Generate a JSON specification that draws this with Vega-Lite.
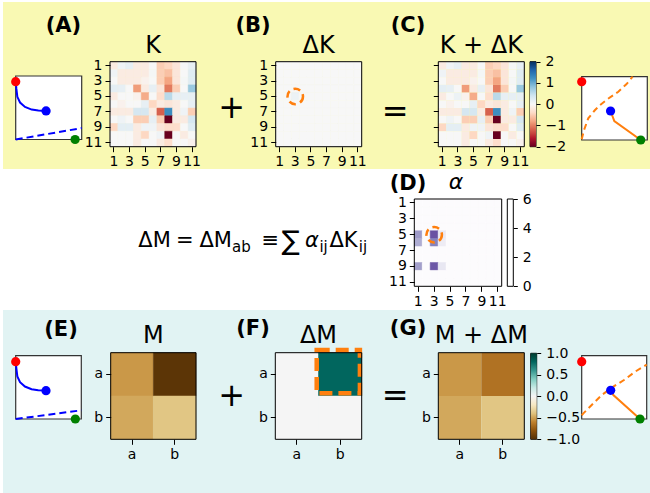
{
  "$schema": "https://vega.github.io/schema/vega-lite/v6.json",
  "padding": {"left": 3, "top": 2, "right": 0, "bottom": 0},
  "background": "white",
  "spacing": 0,
  "config": {
    "font": "DejaVu Sans",
    "view": {"stroke": null},
    "axis": {"labelFont": "DejaVu Sans", "labelFontSize": 14, "labelColor": "black", "tickColor": "black", "tickSize": 5, "tickWidth": 1, "domain": false, "grid": false, "labelPadding": 3, "labelAngle": 0, "labelOverlap": false, "labelFlush": false, "minExtent": 0},
    "legend": {"padding": 0}
  },
  "datasets": {
    "K": [
      {"r":1,"c":1,"v":-0.17},{"r":1,"c":2,"v":0.08},{"r":1,"c":3,"v":0.17},{"r":1,"c":4,"v":-0.17},{"r":1,"c":5,"v":-0.17},{"r":1,"c":6,"v":0},{"r":1,"c":7,"v":-0.5},{"r":1,"c":8,"v":-0.42},{"r":1,"c":9,"v":-0.25},{"r":1,"c":10,"v":0.03},{"r":1,"c":11,"v":0.17},
      {"r":2,"c":1,"v":0.08},{"r":2,"c":2,"v":-0.17},{"r":2,"c":3,"v":-0.17},{"r":2,"c":4,"v":-0.17},{"r":2,"c":5,"v":-0.17},{"r":2,"c":6,"v":0.03},{"r":2,"c":7,"v":-0.5},{"r":2,"c":8,"v":-0.6},{"r":2,"c":9,"v":-0.25},{"r":2,"c":10,"v":0},{"r":2,"c":11,"v":0.25},
      {"r":3,"c":1,"v":0},{"r":3,"c":2,"v":-0.17},{"r":3,"c":3,"v":-0.17},{"r":3,"c":4,"v":-0.17},{"r":3,"c":5,"v":-0.08},{"r":3,"c":6,"v":0},{"r":3,"c":7,"v":-0.5},{"r":3,"c":8,"v":-0.8},{"r":3,"c":9,"v":-0.25},{"r":3,"c":10,"v":0.03},{"r":3,"c":11,"v":0.25},
      {"r":4,"c":1,"v":0.2},{"r":4,"c":2,"v":0.17},{"r":4,"c":3,"v":0},{"r":4,"c":4,"v":-0.85},{"r":4,"c":5,"v":-0.17},{"r":4,"c":6,"v":0.17},{"r":4,"c":7,"v":-0.25},{"r":4,"c":8,"v":-1.05},{"r":4,"c":9,"v":-0.5},{"r":4,"c":10,"v":0},{"r":4,"c":11,"v":0.75},
      {"r":5,"c":1,"v":-0.17},{"r":5,"c":2,"v":0},{"r":5,"c":3,"v":0},{"r":5,"c":4,"v":-0.08},{"r":5,"c":5,"v":-0.75},{"r":5,"c":6,"v":0},{"r":5,"c":7,"v":-0.35},{"r":5,"c":8,"v":0.55},{"r":5,"c":9,"v":0.17},{"r":5,"c":10,"v":0.17},{"r":5,"c":11,"v":0.17},
      {"r":6,"c":1,"v":0},{"r":6,"c":2,"v":-0.08},{"r":6,"c":3,"v":0},{"r":6,"c":4,"v":0},{"r":6,"c":5,"v":0.17},{"r":6,"c":6,"v":-0.42},{"r":6,"c":7,"v":-0.17},{"r":6,"c":8,"v":-0.25},{"r":6,"c":9,"v":-0.17},{"r":6,"c":10,"v":0},{"r":6,"c":11,"v":0.17},
      {"r":7,"c":1,"v":-0.17},{"r":7,"c":2,"v":-0.17},{"r":7,"c":3,"v":-0.17},{"r":7,"c":4,"v":0.35},{"r":7,"c":5,"v":0.35},{"r":7,"c":6,"v":-0.17},{"r":7,"c":7,"v":-1.2},{"r":7,"c":8,"v":1.25},{"r":7,"c":9,"v":-0.17},{"r":7,"c":10,"v":0.08},{"r":7,"c":11,"v":-0.5},
      {"r":8,"c":1,"v":0},{"r":8,"c":2,"v":0.08},{"r":8,"c":3,"v":0},{"r":8,"c":4,"v":-0.5},{"r":8,"c":5,"v":-0.5},{"r":8,"c":6,"v":0.17},{"r":8,"c":7,"v":-0.5},{"r":8,"c":8,"v":-2},{"r":8,"c":9,"v":-0.17},{"r":8,"c":10,"v":-0.17},{"r":8,"c":11,"v":0.35},
      {"r":9,"c":1,"v":-0.42},{"r":9,"c":2,"v":0.2},{"r":9,"c":3,"v":0.2},{"r":9,"c":4,"v":-0.17},{"r":9,"c":5,"v":0.08},{"r":9,"c":6,"v":0.08},{"r":9,"c":7,"v":-0.25},{"r":9,"c":8,"v":-0.35},{"r":9,"c":9,"v":-0.35},{"r":9,"c":10,"v":0},{"r":9,"c":11,"v":0.25},
      {"r":10,"c":1,"v":0},{"r":10,"c":2,"v":0},{"r":10,"c":3,"v":0},{"r":10,"c":4,"v":-0.17},{"r":10,"c":5,"v":-0.42},{"r":10,"c":6,"v":0},{"r":10,"c":7,"v":0.08},{"r":10,"c":8,"v":-2},{"r":10,"c":9,"v":0},{"r":10,"c":10,"v":-0.17},{"r":10,"c":11,"v":0},
      {"r":11,"c":1,"v":0},{"r":11,"c":2,"v":0},{"r":11,"c":3,"v":0},{"r":11,"c":4,"v":-0.17},{"r":11,"c":5,"v":0},{"r":11,"c":6,"v":0},{"r":11,"c":7,"v":-0.17},{"r":11,"c":8,"v":-0.35},{"r":11,"c":9,"v":0},{"r":11,"c":10,"v":0},{"r":11,"c":11,"v":-0.08}
    ],
    "KdK": [
      {"r":1,"c":1,"v":-0.17},{"r":1,"c":2,"v":0.08},{"r":1,"c":3,"v":0.17},{"r":1,"c":4,"v":-0.17},{"r":1,"c":5,"v":-0.17},{"r":1,"c":6,"v":0},{"r":1,"c":7,"v":-0.5},{"r":1,"c":8,"v":-0.42},{"r":1,"c":9,"v":-0.25},{"r":1,"c":10,"v":0.03},{"r":1,"c":11,"v":0.17},
      {"r":2,"c":1,"v":0.08},{"r":2,"c":2,"v":-0.17},{"r":2,"c":3,"v":-0.17},{"r":2,"c":4,"v":-0.17},{"r":2,"c":5,"v":-0.17},{"r":2,"c":6,"v":0.03},{"r":2,"c":7,"v":-0.5},{"r":2,"c":8,"v":-0.6},{"r":2,"c":9,"v":-0.25},{"r":2,"c":10,"v":0},{"r":2,"c":11,"v":0.25},
      {"r":3,"c":1,"v":0},{"r":3,"c":2,"v":-0.17},{"r":3,"c":3,"v":-0.17},{"r":3,"c":4,"v":-0.17},{"r":3,"c":5,"v":-0.08},{"r":3,"c":6,"v":0},{"r":3,"c":7,"v":-0.5},{"r":3,"c":8,"v":-0.8},{"r":3,"c":9,"v":-0.25},{"r":3,"c":10,"v":0.03},{"r":3,"c":11,"v":0.25},
      {"r":4,"c":1,"v":0.2},{"r":4,"c":2,"v":0.17},{"r":4,"c":3,"v":0},{"r":4,"c":4,"v":-0.85},{"r":4,"c":5,"v":-0.17},{"r":4,"c":6,"v":0.17},{"r":4,"c":7,"v":-0.25},{"r":4,"c":8,"v":-1.05},{"r":4,"c":9,"v":-0.5},{"r":4,"c":10,"v":0},{"r":4,"c":11,"v":0.75},
      {"r":5,"c":1,"v":-0.17},{"r":5,"c":2,"v":0},{"r":5,"c":3,"v":0.12},{"r":5,"c":4,"v":-0.08},{"r":5,"c":5,"v":-0.75},{"r":5,"c":6,"v":0},{"r":5,"c":7,"v":-0.35},{"r":5,"c":8,"v":0.55},{"r":5,"c":9,"v":0.17},{"r":5,"c":10,"v":0.17},{"r":5,"c":11,"v":0.17},
      {"r":6,"c":1,"v":0},{"r":6,"c":2,"v":-0.08},{"r":6,"c":3,"v":0},{"r":6,"c":4,"v":0},{"r":6,"c":5,"v":0.17},{"r":6,"c":6,"v":-0.42},{"r":6,"c":7,"v":-0.17},{"r":6,"c":8,"v":-0.25},{"r":6,"c":9,"v":-0.17},{"r":6,"c":10,"v":0},{"r":6,"c":11,"v":0.17},
      {"r":7,"c":1,"v":-0.17},{"r":7,"c":2,"v":-0.17},{"r":7,"c":3,"v":-0.17},{"r":7,"c":4,"v":0.35},{"r":7,"c":5,"v":0.35},{"r":7,"c":6,"v":-0.17},{"r":7,"c":7,"v":-1.2},{"r":7,"c":8,"v":1.25},{"r":7,"c":9,"v":-0.17},{"r":7,"c":10,"v":0.08},{"r":7,"c":11,"v":-0.5},
      {"r":8,"c":1,"v":0},{"r":8,"c":2,"v":0.08},{"r":8,"c":3,"v":0},{"r":8,"c":4,"v":-0.5},{"r":8,"c":5,"v":-0.5},{"r":8,"c":6,"v":0.17},{"r":8,"c":7,"v":-0.5},{"r":8,"c":8,"v":-2},{"r":8,"c":9,"v":-0.17},{"r":8,"c":10,"v":-0.17},{"r":8,"c":11,"v":0.35},
      {"r":9,"c":1,"v":-0.42},{"r":9,"c":2,"v":0.2},{"r":9,"c":3,"v":0.2},{"r":9,"c":4,"v":-0.17},{"r":9,"c":5,"v":0.08},{"r":9,"c":6,"v":0.08},{"r":9,"c":7,"v":-0.25},{"r":9,"c":8,"v":-0.35},{"r":9,"c":9,"v":-0.35},{"r":9,"c":10,"v":0},{"r":9,"c":11,"v":0.25},
      {"r":10,"c":1,"v":0},{"r":10,"c":2,"v":0},{"r":10,"c":3,"v":0},{"r":10,"c":4,"v":-0.17},{"r":10,"c":5,"v":-0.42},{"r":10,"c":6,"v":0},{"r":10,"c":7,"v":0.08},{"r":10,"c":8,"v":-2},{"r":10,"c":9,"v":0},{"r":10,"c":10,"v":-0.17},{"r":10,"c":11,"v":0},
      {"r":11,"c":1,"v":0},{"r":11,"c":2,"v":0},{"r":11,"c":3,"v":0},{"r":11,"c":4,"v":-0.17},{"r":11,"c":5,"v":0},{"r":11,"c":6,"v":0},{"r":11,"c":7,"v":-0.17},{"r":11,"c":8,"v":-0.35},{"r":11,"c":9,"v":0},{"r":11,"c":10,"v":0},{"r":11,"c":11,"v":-0.08}
    ],
    "dK": [
      {"r":1,"c":1,"v":0},{"r":1,"c":2,"v":0},{"r":1,"c":3,"v":0},{"r":1,"c":4,"v":0},{"r":1,"c":5,"v":0},{"r":1,"c":6,"v":0},{"r":1,"c":7,"v":0},{"r":1,"c":8,"v":0},{"r":1,"c":9,"v":0},{"r":1,"c":10,"v":0},{"r":1,"c":11,"v":0},
      {"r":2,"c":1,"v":0},{"r":2,"c":2,"v":0},{"r":2,"c":3,"v":0},{"r":2,"c":4,"v":0},{"r":2,"c":5,"v":0},{"r":2,"c":6,"v":0},{"r":2,"c":7,"v":0},{"r":2,"c":8,"v":0},{"r":2,"c":9,"v":0},{"r":2,"c":10,"v":0},{"r":2,"c":11,"v":0},
      {"r":3,"c":1,"v":0},{"r":3,"c":2,"v":0},{"r":3,"c":3,"v":0},{"r":3,"c":4,"v":0},{"r":3,"c":5,"v":0},{"r":3,"c":6,"v":0},{"r":3,"c":7,"v":0},{"r":3,"c":8,"v":0},{"r":3,"c":9,"v":0},{"r":3,"c":10,"v":0},{"r":3,"c":11,"v":0},
      {"r":4,"c":1,"v":0},{"r":4,"c":2,"v":0},{"r":4,"c":3,"v":0},{"r":4,"c":4,"v":0},{"r":4,"c":5,"v":0},{"r":4,"c":6,"v":0},{"r":4,"c":7,"v":0},{"r":4,"c":8,"v":0},{"r":4,"c":9,"v":0},{"r":4,"c":10,"v":0},{"r":4,"c":11,"v":0},
      {"r":5,"c":1,"v":0},{"r":5,"c":2,"v":0},{"r":5,"c":3,"v":0.12},{"r":5,"c":4,"v":0},{"r":5,"c":5,"v":0},{"r":5,"c":6,"v":0},{"r":5,"c":7,"v":0},{"r":5,"c":8,"v":0},{"r":5,"c":9,"v":0},{"r":5,"c":10,"v":0},{"r":5,"c":11,"v":0},
      {"r":6,"c":1,"v":0},{"r":6,"c":2,"v":0},{"r":6,"c":3,"v":0},{"r":6,"c":4,"v":0},{"r":6,"c":5,"v":0},{"r":6,"c":6,"v":0},{"r":6,"c":7,"v":0},{"r":6,"c":8,"v":0},{"r":6,"c":9,"v":0},{"r":6,"c":10,"v":0},{"r":6,"c":11,"v":0},
      {"r":7,"c":1,"v":0},{"r":7,"c":2,"v":0},{"r":7,"c":3,"v":0},{"r":7,"c":4,"v":0},{"r":7,"c":5,"v":0},{"r":7,"c":6,"v":0},{"r":7,"c":7,"v":0},{"r":7,"c":8,"v":0},{"r":7,"c":9,"v":0},{"r":7,"c":10,"v":0},{"r":7,"c":11,"v":0},
      {"r":8,"c":1,"v":0},{"r":8,"c":2,"v":0},{"r":8,"c":3,"v":0},{"r":8,"c":4,"v":0},{"r":8,"c":5,"v":0},{"r":8,"c":6,"v":0},{"r":8,"c":7,"v":0},{"r":8,"c":8,"v":0},{"r":8,"c":9,"v":0},{"r":8,"c":10,"v":0},{"r":8,"c":11,"v":0},
      {"r":9,"c":1,"v":0},{"r":9,"c":2,"v":0},{"r":9,"c":3,"v":0},{"r":9,"c":4,"v":0},{"r":9,"c":5,"v":0},{"r":9,"c":6,"v":0},{"r":9,"c":7,"v":0},{"r":9,"c":8,"v":0},{"r":9,"c":9,"v":0},{"r":9,"c":10,"v":0},{"r":9,"c":11,"v":0},
      {"r":10,"c":1,"v":0},{"r":10,"c":2,"v":0},{"r":10,"c":3,"v":0},{"r":10,"c":4,"v":0},{"r":10,"c":5,"v":0},{"r":10,"c":6,"v":0},{"r":10,"c":7,"v":0},{"r":10,"c":8,"v":0},{"r":10,"c":9,"v":0},{"r":10,"c":10,"v":0},{"r":10,"c":11,"v":0},
      {"r":11,"c":1,"v":0},{"r":11,"c":2,"v":0},{"r":11,"c":3,"v":0},{"r":11,"c":4,"v":0},{"r":11,"c":5,"v":0},{"r":11,"c":6,"v":0},{"r":11,"c":7,"v":0},{"r":11,"c":8,"v":0},{"r":11,"c":9,"v":0},{"r":11,"c":10,"v":0},{"r":11,"c":11,"v":0}
    ],
    "alpha": [
      {"r":1,"c":1,"v":0},{"r":1,"c":2,"v":0},{"r":1,"c":3,"v":0},{"r":1,"c":4,"v":0},{"r":1,"c":5,"v":0},{"r":1,"c":6,"v":0},{"r":1,"c":7,"v":0},{"r":1,"c":8,"v":0},{"r":1,"c":9,"v":0},{"r":1,"c":10,"v":0},{"r":1,"c":11,"v":0},
      {"r":2,"c":1,"v":0},{"r":2,"c":2,"v":0},{"r":2,"c":3,"v":0},{"r":2,"c":4,"v":0},{"r":2,"c":5,"v":0},{"r":2,"c":6,"v":0},{"r":2,"c":7,"v":0},{"r":2,"c":8,"v":0},{"r":2,"c":9,"v":0},{"r":2,"c":10,"v":0},{"r":2,"c":11,"v":0},
      {"r":3,"c":1,"v":0},{"r":3,"c":2,"v":0},{"r":3,"c":3,"v":0},{"r":3,"c":4,"v":0},{"r":3,"c":5,"v":0},{"r":3,"c":6,"v":0},{"r":3,"c":7,"v":0},{"r":3,"c":8,"v":0},{"r":3,"c":9,"v":0},{"r":3,"c":10,"v":0},{"r":3,"c":11,"v":0},
      {"r":4,"c":1,"v":0},{"r":4,"c":2,"v":0},{"r":4,"c":3,"v":0},{"r":4,"c":4,"v":0},{"r":4,"c":5,"v":0},{"r":4,"c":6,"v":0},{"r":4,"c":7,"v":0},{"r":4,"c":8,"v":0},{"r":4,"c":9,"v":0},{"r":4,"c":10,"v":0},{"r":4,"c":11,"v":0},
      {"r":5,"c":1,"v":3.0},{"r":5,"c":2,"v":0},{"r":5,"c":3,"v":4.5},{"r":5,"c":4,"v":0.9},{"r":5,"c":5,"v":0},{"r":5,"c":6,"v":0},{"r":5,"c":7,"v":0},{"r":5,"c":8,"v":0},{"r":5,"c":9,"v":0},{"r":5,"c":10,"v":0},{"r":5,"c":11,"v":0},
      {"r":6,"c":1,"v":2.6},{"r":6,"c":2,"v":0},{"r":6,"c":3,"v":3.6},{"r":6,"c":4,"v":0.8},{"r":6,"c":5,"v":0},{"r":6,"c":6,"v":0},{"r":6,"c":7,"v":0},{"r":6,"c":8,"v":0},{"r":6,"c":9,"v":0},{"r":6,"c":10,"v":0},{"r":6,"c":11,"v":0},
      {"r":7,"c":1,"v":0},{"r":7,"c":2,"v":0},{"r":7,"c":3,"v":0},{"r":7,"c":4,"v":0},{"r":7,"c":5,"v":0},{"r":7,"c":6,"v":0},{"r":7,"c":7,"v":0},{"r":7,"c":8,"v":0},{"r":7,"c":9,"v":0},{"r":7,"c":10,"v":0},{"r":7,"c":11,"v":0},
      {"r":8,"c":1,"v":0},{"r":8,"c":2,"v":0},{"r":8,"c":3,"v":0},{"r":8,"c":4,"v":0},{"r":8,"c":5,"v":0},{"r":8,"c":6,"v":0},{"r":8,"c":7,"v":0},{"r":8,"c":8,"v":0},{"r":8,"c":9,"v":0},{"r":8,"c":10,"v":0},{"r":8,"c":11,"v":0},
      {"r":9,"c":1,"v":2.9},{"r":9,"c":2,"v":0},{"r":9,"c":3,"v":4.4},{"r":9,"c":4,"v":1.0},{"r":9,"c":5,"v":0},{"r":9,"c":6,"v":0},{"r":9,"c":7,"v":0},{"r":9,"c":8,"v":0},{"r":9,"c":9,"v":0},{"r":9,"c":10,"v":0},{"r":9,"c":11,"v":0},
      {"r":10,"c":1,"v":0},{"r":10,"c":2,"v":0},{"r":10,"c":3,"v":0},{"r":10,"c":4,"v":0},{"r":10,"c":5,"v":0},{"r":10,"c":6,"v":0},{"r":10,"c":7,"v":0},{"r":10,"c":8,"v":0},{"r":10,"c":9,"v":0},{"r":10,"c":10,"v":0},{"r":10,"c":11,"v":0},
      {"r":11,"c":1,"v":0},{"r":11,"c":2,"v":0},{"r":11,"c":3,"v":0},{"r":11,"c":4,"v":0},{"r":11,"c":5,"v":0},{"r":11,"c":6,"v":0},{"r":11,"c":7,"v":0},{"r":11,"c":8,"v":0},{"r":11,"c":9,"v":0},{"r":11,"c":10,"v":0},{"r":11,"c":11,"v":0}
    ],
    "M": [{"r":"a","c":"a","v":-0.53},{"r":"a","c":"b","v":-0.97},{"r":"b","c":"a","v":-0.48},{"r":"b","c":"b","v":-0.38}],
    "dM": [{"r":"a","c":"a","v":0},{"r":"a","c":"b","v":0.8},{"r":"b","c":"a","v":0},{"r":"b","c":"b","v":0}],
    "MdM": [{"r":"a","c":"a","v":-0.53},{"r":"a","c":"b","v":-0.66},{"r":"b","c":"a","v":-0.48},{"r":"b","c":"b","v":-0.38}],
    "A_curve": [{"x":0.0,"y":0.91},{"x":0.01,"y":0.8},{"x":0.025,"y":0.672},{"x":0.066,"y":0.582},{"x":0.141,"y":0.513},{"x":0.242,"y":0.471},{"x":0.343,"y":0.455},{"x":0.46,"y":0.45}],
    "A_dash": [{"x":0,"y":0},{"x":1,"y":0.18}],
    "A_pts": [{"x":0,"y":0.91,"role":"start"},{"x":0.46,"y":0.45,"role":"mid"},{"x":0.9,"y":0,"role":"end"}],
    "C_dash": [{"x":0,"y":0.01},{"x":0.036,"y":0.158},{"x":0.1,"y":0.342},{"x":0.2,"y":0.47},{"x":0.28,"y":0.553},{"x":0.4,"y":0.65},{"x":0.558,"y":0.763},{"x":0.68,"y":0.88},{"x":0.777,"y":1.0}],
    "C_line": [{"x":0.44,"y":0.458},{"x":0.497,"y":0.3},{"x":0.9,"y":0}],
    "C_pts": [{"x":0,"y":0.92,"role":"start"},{"x":0.44,"y":0.458,"role":"mid"},{"x":0.9,"y":0,"role":"end"}],
    "E_dash": [{"x":0,"y":0},{"x":1,"y":0.137}],
    "E_pts": [{"x":0,"y":0.905,"role":"start"},{"x":0.462,"y":0.447,"role":"mid"},{"x":0.909,"y":0,"role":"end"}],
    "G_dash": [{"x":0,"y":0.06},{"x":0.026,"y":0.089},{"x":0.154,"y":0.221},{"x":0.308,"y":0.379},{"x":0.487,"y":0.511},{"x":0.651,"y":0.616},{"x":0.821,"y":0.747},{"x":1.0,"y":0.86}],
    "G_line": [{"x":0.446,"y":0.453},{"x":0.487,"y":0.379},{"x":0.897,"y":0}],
    "G_pts": [{"x":0,"y":0.905,"role":"start"},{"x":0.446,"y":0.453,"role":"mid"},{"x":0.897,"y":0,"role":"end"}]
  },
  "vconcat": [
    {
      "width": 647, "height": 167,
      "view": {"fill": "#f9f9b3", "stroke": null},
      "resolve": {"scale": {"x": "independent", "y": "independent", "color": "independent", "stroke": "independent"}, "axis": {"x": "independent", "y": "independent"}, "legend": {"color": "independent", "stroke": "independent"}},
      "layer": [
        {"layer": [
          {"data": {"values": [{}]}, "mark": {"type": "rect", "fill": "white", "stroke": "#333333", "strokeWidth": 1.2},
           "encoding": {"x": {"datum": 0, "type": "quantitative", "scale": {"domain": [0, 1], "range": [12.7, 78.7], "nice": false, "zero": false}, "axis": null}, "x2": {"datum": 1}, "y": {"datum": 0, "type": "quantitative", "scale": {"domain": [0, 1], "range": [137.5, 74], "nice": false, "zero": false}, "axis": null}, "y2": {"datum": 1}}},
          {"data": {"name": "A_curve"}, "mark": {"type": "line", "color": "#0000ff", "strokeWidth": 2}, "encoding": {"x": {"field": "x", "type": "quantitative"}, "y": {"field": "y", "type": "quantitative"}}},
          {"data": {"name": "A_dash"}, "mark": {"type": "line", "color": "#0000ff", "strokeWidth": 2, "strokeDash": [7, 4]}, "encoding": {"x": {"field": "x", "type": "quantitative"}, "y": {"field": "y", "type": "quantitative"}}},
          {"data": {"name": "A_pts"}, "mark": {"type": "point", "filled": true, "size": 85, "opacity": 1}, "encoding": {"x": {"field": "x", "type": "quantitative"}, "y": {"field": "y", "type": "quantitative"}, "color": {"field": "role", "type": "nominal", "scale": {"domain": ["start", "mid", "end"], "range": ["#ff0000", "#0000ff", "#008000"]}, "legend": null}}},
          {"data": {"values": [{"t": "(A)"}]}, "mark": {"type": "text", "fontSize": 21, "fontWeight": "bold", "align": "center", "baseline": "alphabetic", "color": "black"}, "encoding": {"text": {"field": "t"}, "x": {"datum": 0.724, "type": "quantitative"}, "y": {"datum": 1.693, "type": "quantitative"}}}
        ]},
        {"data": {"name": "K"}, "mark": {"type": "rect", "strokeWidth": 0.5, "opacity": 1},
         "encoding": {
           "x": {"field": "c", "type": "ordinal", "scale": {"domain": [1,2,3,4,5,6,7,8,9,10,11], "range": [107, 193], "paddingInner": 0, "paddingOuter": 0}, "axis": {"orient": "bottom", "offset": -22.3, "values": [1,3,5,7,9,11], "title": null}},
           "y": {"field": "r", "type": "ordinal", "scale": {"domain": [1,2,3,4,5,6,7,8,9,10,11], "range": [59.7, 144.7], "paddingInner": 0, "paddingOuter": 0}, "axis": {"orient": "left", "offset": -107, "values": [1,3,5,7,9,11], "title": null}},
           "color": {"field": "v", "type": "quantitative", "scale": {"domain": [-2,-1.6,-1.2,-0.8,-0.4,0,0.4,0.8,1.2,1.6,2], "range": ["#67001f","#b2182b","#d6604d","#f4a582","#fddbc7","#f7f7f7","#d1e5f0","#92c5de","#4393c3","#2166ac","#053061"]}, "legend": null},
           "stroke": {"field": "v", "type": "quantitative", "scale": {"domain": [-2,-1.6,-1.2,-0.8,-0.4,0,0.4,0.8,1.2,1.6,2], "range": ["#67001f","#b2182b","#d6604d","#f4a582","#fddbc7","#f7f7f7","#d1e5f0","#92c5de","#4393c3","#2166ac","#053061"]}, "legend": null}}},
        {"layer": [
          {"data": {"values": [{}]}, "mark": {"type": "rect", "fill": "transparent", "stroke": "black", "strokeWidth": 1},
           "encoding": {"x": {"datum": 0, "type": "quantitative", "scale": {"domain": [0, 1], "range": [107, 193], "nice": false, "zero": false}, "axis": null}, "x2": {"datum": 1}, "y": {"datum": 0, "type": "quantitative", "scale": {"domain": [0, 1], "range": [144.7, 59.7], "nice": false, "zero": false}, "axis": null}, "y2": {"datum": 1}}},
          {"data": {"values": [{"t": "K"}]}, "mark": {"type": "text", "fontSize": 24, "align": "center", "baseline": "alphabetic", "color": "black"}, "encoding": {"text": {"field": "t"}, "x": {"datum": 0.5, "type": "quantitative"}, "y": {"datum": 1.1024, "type": "quantitative"}}}
        ]},
        {"layer": [
          {"data": {"name": "dK"}, "mark": {"type": "rect", "strokeWidth": 0.5, "opacity": 1},
           "encoding": {
             "x": {"field": "c", "type": "ordinal", "scale": {"domain": [1,2,3,4,5,6,7,8,9,10,11], "range": [272.7, 358.7], "paddingInner": 0, "paddingOuter": 0}, "axis": {"orient": "bottom", "offset": -22.3, "values": [1,3,5,7,9,11], "title": null}},
             "y": {"field": "r", "type": "ordinal", "scale": {"domain": [1,2,3,4,5,6,7,8,9,10,11], "range": [59.7, 144.7], "paddingInner": 0, "paddingOuter": 0}, "axis": {"orient": "left", "offset": -272.7, "values": [1,3,5,7,9,11], "title": null}},
             "color": {"field": "v", "type": "quantitative", "scale": {"domain": [-2,-1.6,-1.2,-0.8,-0.4,0,0.4,0.8,1.2,1.6,2], "range": ["#67001f","#b2182b","#d6604d","#f4a582","#fddbc7","#f7f7f7","#d1e5f0","#92c5de","#4393c3","#2166ac","#053061"]}, "legend": null},
             "stroke": {"field": "v", "type": "quantitative", "scale": {"domain": [-2,-1.6,-1.2,-0.8,-0.4,0,0.4,0.8,1.2,1.6,2], "range": ["#67001f","#b2182b","#d6604d","#f4a582","#fddbc7","#f7f7f7","#d1e5f0","#92c5de","#4393c3","#2166ac","#053061"]}, "legend": null}}},
          {"data": {"values": [{"r": 5, "c": 3}]}, "mark": {"type": "point", "shape": "circle", "size": 240, "filled": false, "stroke": "#ff7f0e", "strokeWidth": 2.5, "strokeDash": [7, 4.5], "opacity": 1},
           "encoding": {"x": {"field": "c", "type": "ordinal"}, "y": {"field": "r", "type": "ordinal"}}}
        ]},
        {"layer": [
          {"data": {"values": [{}]}, "mark": {"type": "rect", "fill": "transparent", "stroke": "black", "strokeWidth": 1},
           "encoding": {"x": {"datum": 0, "type": "quantitative", "scale": {"domain": [0, 1], "range": [272.7, 358.7], "nice": false, "zero": false}, "axis": null}, "x2": {"datum": 1}, "y": {"datum": 0, "type": "quantitative", "scale": {"domain": [0, 1], "range": [144.7, 59.7], "nice": false, "zero": false}, "axis": null}, "y2": {"datum": 1}}},
          {"data": {"values": [{"t": "ΔK"}]}, "mark": {"type": "text", "fontSize": 24, "align": "center", "baseline": "alphabetic", "color": "black"}, "encoding": {"text": {"field": "t"}, "x": {"datum": 0.5, "type": "quantitative"}, "y": {"datum": 1.1024, "type": "quantitative"}}},
          {"data": {"values": [{"t": "(B)"}]}, "mark": {"type": "text", "fontSize": 21, "fontWeight": "bold", "align": "center", "baseline": "alphabetic", "color": "black"}, "encoding": {"text": {"field": "t"}, "x": {"datum": -0.264, "type": "quantitative"}, "y": {"datum": 1.349, "type": "quantitative"}}},
          {"data": {"values": [{"t": "+"}]}, "mark": {"type": "text", "fontSize": 32, "align": "center", "baseline": "alphabetic", "color": "black"}, "encoding": {"text": {"field": "t"}, "x": {"datum": -0.512, "type": "quantitative"}, "y": {"datum": 0.332, "type": "quantitative"}}}
        ]},
        {"data": {"name": "KdK"}, "mark": {"type": "rect", "strokeWidth": 0.5, "opacity": 1},
         "encoding": {
           "x": {"field": "c", "type": "ordinal", "scale": {"domain": [1,2,3,4,5,6,7,8,9,10,11], "range": [435.3, 521.3], "paddingInner": 0, "paddingOuter": 0}, "axis": {"orient": "bottom", "offset": -22.3, "values": [1,3,5,7,9,11], "title": null}},
           "y": {"field": "r", "type": "ordinal", "scale": {"domain": [1,2,3,4,5,6,7,8,9,10,11], "range": [59.7, 144.7], "paddingInner": 0, "paddingOuter": 0}, "axis": {"orient": "left", "offset": -435.3, "values": [1,3,5,7,9,11], "labels": false, "title": null}},
           "color": {"field": "v", "type": "quantitative", "scale": {"domain": [-2,-1.6,-1.2,-0.8,-0.4,0,0.4,0.8,1.2,1.6,2], "range": ["#67001f","#b2182b","#d6604d","#f4a582","#fddbc7","#f7f7f7","#d1e5f0","#92c5de","#4393c3","#2166ac","#053061"]}, "legend": {"type": "gradient", "orient": "none", "legendX": 527, "legendY": 59.7, "direction": "vertical", "gradientLength": 85, "gradientThickness": 6, "title": null, "labelExpr": "''", "labelOpacity": 0, "gradientStrokeWidth": 0}}}},
        {"layer": [
          {"data": {"values": [{}]}, "mark": {"type": "rect", "fill": "transparent", "stroke": "black", "strokeWidth": 1},
           "encoding": {"x": {"datum": 0, "type": "quantitative", "scale": {"domain": [0, 1], "range": [435.3, 521.3], "nice": false, "zero": false}, "axis": null}, "x2": {"datum": 1}, "y": {"datum": 0, "type": "quantitative", "scale": {"domain": [0, 1], "range": [144.7, 59.7], "nice": false, "zero": false}, "axis": null}, "y2": {"datum": 1}}},
          {"data": {"values": [{"t": "K + ΔK"}]}, "mark": {"type": "text", "fontSize": 24, "align": "center", "baseline": "alphabetic", "color": "black"}, "encoding": {"text": {"field": "t"}, "x": {"datum": 0.5, "type": "quantitative"}, "y": {"datum": 1.1024, "type": "quantitative"}}},
          {"data": {"values": [{"t": "(C)"}]}, "mark": {"type": "text", "fontSize": 21, "fontWeight": "bold", "align": "center", "baseline": "alphabetic", "color": "black"}, "encoding": {"text": {"field": "t"}, "x": {"datum": -0.352, "type": "quantitative"}, "y": {"datum": 1.349, "type": "quantitative"}}},
          {"data": {"values": [{"t": "="}]}, "mark": {"type": "text", "fontSize": 32, "align": "center", "baseline": "alphabetic", "color": "black"}, "encoding": {"text": {"field": "t"}, "x": {"datum": -0.503, "type": "quantitative"}, "y": {"datum": 0.296, "type": "quantitative"}}}
        ]},
        {"data": {"values": [{"lo": -2, "hi": 2}]}, "mark": {"type": "rect", "fill": "transparent", "stroke": "black", "strokeWidth": 1},
         "encoding": {"x": {"datum": 0, "type": "quantitative", "scale": {"domain": [0, 1], "range": [527, 533], "nice": false, "zero": false}, "axis": null}, "x2": {"datum": 1},
           "y": {"field": "lo", "type": "quantitative", "scale": {"domain": [-2, 2], "range": [144.7, 59.7], "nice": false, "zero": false}, "axis": {"orient": "right", "offset": -114, "values": [-2, -1, 0, 1, 2], "format": "d", "tickSize": 4, "labelPadding": 5, "title": null}}, "y2": {"field": "hi"}}},
        {"layer": [
          {"data": {"values": [{}]}, "mark": {"type": "rect", "fill": "white", "stroke": "#333333", "strokeWidth": 1.2},
           "encoding": {"x": {"datum": 0, "type": "quantitative", "scale": {"domain": [0, 1], "range": [578.7, 644.3], "nice": false, "zero": false}, "axis": null}, "x2": {"datum": 1}, "y": {"datum": 0, "type": "quantitative", "scale": {"domain": [0, 1], "range": [138, 74.7], "nice": false, "zero": false}, "axis": null}, "y2": {"datum": 1}}},
          {"data": {"name": "C_dash"}, "mark": {"type": "line", "color": "#ff7f0e", "strokeWidth": 2, "strokeDash": [6, 4]}, "encoding": {"x": {"field": "x", "type": "quantitative"}, "y": {"field": "y", "type": "quantitative"}}},
          {"data": {"name": "C_line"}, "mark": {"type": "line", "color": "#ff7f0e", "strokeWidth": 2}, "encoding": {"x": {"field": "x", "type": "quantitative"}, "y": {"field": "y", "type": "quantitative"}}},
          {"data": {"name": "C_pts"}, "mark": {"type": "point", "filled": true, "size": 85, "opacity": 1}, "encoding": {"x": {"field": "x", "type": "quantitative"}, "y": {"field": "y", "type": "quantitative"}, "color": {"field": "role", "type": "nominal", "scale": {"domain": ["start", "mid", "end"], "range": ["#ff0000", "#0000ff", "#008000"]}, "legend": null}}}
        ]}
      ]
    },
    {
      "width": 647, "height": 141,
      "view": {"fill": "white", "stroke": null},
      "resolve": {"scale": {"x": "independent", "y": "independent", "color": "independent", "stroke": "independent"}, "axis": {"x": "independent", "y": "independent"}, "legend": {"color": "independent", "stroke": "independent"}},
      "layer": [
        {"layer": [
          {"data": {"values": [{"t": "ΔM"}]}, "mark": {"type": "text", "fontSize": 21, "align": "left", "baseline": "alphabetic", "color": "black"}, "encoding": {"text": {"field": "t"}, "x": {"datum": 0, "type": "quantitative", "scale": {"domain": [0, 1], "range": [135.3, 365.3], "nice": false, "zero": false}, "axis": null}, "y": {"datum": 0.41, "type": "quantitative", "scale": {"domain": [0, 1], "range": [90, 60], "nice": false, "zero": false}, "axis": null}}},
          {"data": {"values": [{"t": "="}]}, "mark": {"type": "text", "fontSize": 21, "align": "left", "baseline": "alphabetic", "color": "black"}, "encoding": {"text": {"field": "t"}, "x": {"datum": 0.1639, "type": "quantitative"}, "y": {"datum": 0.41, "type": "quantitative"}}},
          {"data": {"values": [{"t": "ΔM"}]}, "mark": {"type": "text", "fontSize": 21, "align": "left", "baseline": "alphabetic", "color": "black"}, "encoding": {"text": {"field": "t"}, "x": {"datum": 0.2661, "type": "quantitative"}, "y": {"datum": 0.41, "type": "quantitative"}}},
          {"data": {"values": [{"t": "ab"}]}, "mark": {"type": "text", "fontSize": 15, "align": "left", "baseline": "alphabetic", "color": "black"}, "encoding": {"text": {"field": "t"}, "x": {"datum": 0.4074, "type": "quantitative"}, "y": {"datum": 0.2333, "type": "quantitative"}}},
          {"data": {"values": [{"t": "≡"}]}, "mark": {"type": "text", "fontSize": 21, "align": "left", "baseline": "alphabetic", "color": "black"}, "encoding": {"text": {"field": "t"}, "x": {"datum": 0.5357, "type": "quantitative"}, "y": {"datum": 0.41, "type": "quantitative"}}},
          {"data": {"values": [{"t": "∑"}]}, "mark": {"type": "text", "fontSize": 27, "align": "left", "baseline": "alphabetic", "color": "black"}, "encoding": {"text": {"field": "t"}, "x": {"datum": 0.6235, "type": "quantitative"}, "y": {"datum": 0.3, "type": "quantitative"}}},
          {"data": {"values": [{"t": "α"}]}, "mark": {"type": "text", "fontSize": 21, "fontStyle": "italic", "align": "left", "baseline": "alphabetic", "color": "black"}, "encoding": {"text": {"field": "t"}, "x": {"datum": 0.7248, "type": "quantitative"}, "y": {"datum": 0.41, "type": "quantitative"}}},
          {"data": {"values": [{"t": "ij"}]}, "mark": {"type": "text", "fontSize": 15, "align": "left", "baseline": "alphabetic", "color": "black"}, "encoding": {"text": {"field": "t"}, "x": {"datum": 0.7874, "type": "quantitative"}, "y": {"datum": 0.2333, "type": "quantitative"}}},
          {"data": {"values": [{"t": "ΔK"}]}, "mark": {"type": "text", "fontSize": 21, "align": "left", "baseline": "alphabetic", "color": "black"}, "encoding": {"text": {"field": "t"}, "x": {"datum": 0.8313, "type": "quantitative"}, "y": {"datum": 0.41, "type": "quantitative"}}},
          {"data": {"values": [{"t": "ij"}]}, "mark": {"type": "text", "fontSize": 15, "align": "left", "baseline": "alphabetic", "color": "black"}, "encoding": {"text": {"field": "t"}, "x": {"datum": 0.9587, "type": "quantitative"}, "y": {"datum": 0.2333, "type": "quantitative"}}}
        ]},
        {"layer": [
          {"data": {"name": "alpha"}, "mark": {"type": "rect", "strokeWidth": 0.5, "opacity": 1},
           "encoding": {
             "x": {"field": "c", "type": "ordinal", "scale": {"domain": [1,2,3,4,5,6,7,8,9,10,11], "range": [411.3, 498.7], "paddingInner": 0, "paddingOuter": 0}, "axis": {"orient": "bottom", "offset": -23.7, "values": [1,3,5,7,9,11], "title": null}},
             "y": {"field": "r", "type": "ordinal", "scale": {"domain": [1,2,3,4,5,6,7,8,9,10,11], "range": [30, 117.3], "paddingInner": 0, "paddingOuter": 0}, "axis": {"orient": "left", "offset": -411.3, "values": [1,3,5,7,9,11], "title": null}},
             "color": {"field": "v", "type": "quantitative", "scale": {"domain": [0,0.75,1.5,2.25,3,3.75,4.5,5.25,6], "range": ["#fcfbfd","#efedf5","#dadaeb","#bcbddc","#9e9ac8","#807dba","#6a51a3","#54278f","#3f007d"]}, "legend": null},
             "stroke": {"field": "v", "type": "quantitative", "scale": {"domain": [0,0.75,1.5,2.25,3,3.75,4.5,5.25,6], "range": ["#fcfbfd","#efedf5","#dadaeb","#bcbddc","#9e9ac8","#807dba","#6a51a3","#54278f","#3f007d"]}, "legend": null}}},
          {"data": {"values": [{"r": 5, "c": 3}]}, "mark": {"type": "point", "shape": "circle", "size": 240, "filled": false, "stroke": "#ff7f0e", "strokeWidth": 2.5, "strokeDash": [7, 4.5], "opacity": 1},
           "encoding": {"x": {"field": "c", "type": "ordinal"}, "y": {"field": "r", "type": "ordinal"}}}
        ]},
        {"layer": [
          {"data": {"values": [{}]}, "mark": {"type": "rect", "fill": "transparent", "stroke": "black", "strokeWidth": 1},
           "encoding": {"x": {"datum": 0, "type": "quantitative", "scale": {"domain": [0, 1], "range": [411.3, 498.7], "nice": false, "zero": false}, "axis": null}, "x2": {"datum": 1}, "y": {"datum": 0, "type": "quantitative", "scale": {"domain": [0, 1], "range": [117.3, 30], "nice": false, "zero": false}, "axis": null}, "y2": {"datum": 1}}},
          {"data": {"values": [{"t": "α"}]}, "mark": {"type": "text", "fontSize": 22, "fontStyle": "italic", "align": "center", "baseline": "alphabetic", "color": "black"}, "encoding": {"text": {"field": "t"}, "x": {"datum": 0.477, "type": "quantitative"}, "y": {"datum": 1.1145, "type": "quantitative"}}},
          {"data": {"values": [{"t": "(D)"}]}, "mark": {"type": "text", "fontSize": 21, "fontWeight": "bold", "align": "center", "baseline": "alphabetic", "color": "black"}, "encoding": {"text": {"field": "t"}, "x": {"datum": -0.072, "type": "quantitative"}, "y": {"datum": 1.0997, "type": "quantitative"}}}
        ]},
        {"data": {"values": [{"lo": 0, "hi": 6}]}, "mark": {"type": "rect", "fill": "white", "stroke": "black", "strokeWidth": 1},
         "encoding": {"x": {"datum": 0, "type": "quantitative", "scale": {"domain": [0, 1], "range": [504.3, 510.3], "nice": false, "zero": false}, "axis": null}, "x2": {"datum": 1},
           "y": {"field": "lo", "type": "quantitative", "scale": {"domain": [0, 6], "range": [117.3, 30], "nice": false, "zero": false}, "axis": {"orient": "right", "offset": -136.7, "values": [0, 2, 4, 6], "format": "d", "tickSize": 4, "labelPadding": 5, "title": null}}, "y2": {"field": "hi"}}}
      ]
    },
    {
      "width": 647, "height": 183,
      "view": {"fill": "#e1f3f3", "stroke": null},
      "resolve": {"scale": {"x": "independent", "y": "independent", "color": "independent", "stroke": "independent"}, "axis": {"x": "independent", "y": "independent"}, "legend": {"color": "independent", "stroke": "independent"}},
      "layer": [
        {"layer": [
          {"data": {"values": [{}]}, "mark": {"type": "rect", "fill": "white", "stroke": "#333333", "strokeWidth": 1.2},
           "encoding": {"x": {"datum": 0, "type": "quantitative", "scale": {"domain": [0, 1], "range": [12.7, 78.3], "nice": false, "zero": false}, "axis": null}, "x2": {"datum": 1}, "y": {"datum": 0, "type": "quantitative", "scale": {"domain": [0, 1], "range": [109, 45.7], "nice": false, "zero": false}, "axis": null}, "y2": {"datum": 1}}},
          {"data": {"name": "A_curve"}, "mark": {"type": "line", "color": "#0000ff", "strokeWidth": 2}, "encoding": {"x": {"field": "x", "type": "quantitative"}, "y": {"field": "y", "type": "quantitative"}}},
          {"data": {"name": "E_dash"}, "mark": {"type": "line", "color": "#0000ff", "strokeWidth": 2, "strokeDash": [7, 4]}, "encoding": {"x": {"field": "x", "type": "quantitative"}, "y": {"field": "y", "type": "quantitative"}}},
          {"data": {"name": "E_pts"}, "mark": {"type": "point", "filled": true, "size": 85, "opacity": 1}, "encoding": {"x": {"field": "x", "type": "quantitative"}, "y": {"field": "y", "type": "quantitative"}, "color": {"field": "role", "type": "nominal", "scale": {"domain": ["start", "mid", "end"], "range": ["#ff0000", "#0000ff", "#008000"]}, "legend": null}}},
          {"data": {"values": [{"t": "(E)"}]}, "mark": {"type": "text", "fontSize": 21, "fontWeight": "bold", "align": "center", "baseline": "alphabetic", "color": "black"}, "encoding": {"text": {"field": "t"}, "x": {"datum": 0.69, "type": "quantitative"}, "y": {"datum": 1.319, "type": "quantitative"}}}
        ]},
        {"data": {"name": "M"}, "mark": {"type": "rect", "strokeWidth": 0.5, "opacity": 1},
         "encoding": {
           "x": {"field": "c", "type": "ordinal", "scale": {"domain": ["a", "b"], "range": [107.7, 193], "paddingInner": 0, "paddingOuter": 0}, "axis": {"orient": "bottom", "offset": -53.7, "title": null}},
           "y": {"field": "r", "type": "ordinal", "scale": {"domain": ["a", "b"], "range": [42.7, 129.3], "paddingInner": 0, "paddingOuter": 0}, "axis": {"orient": "left", "offset": -107.7, "title": null}},
           "color": {"field": "v", "type": "quantitative", "scale": {"domain": [-1,-0.8,-0.6,-0.4,-0.2,0,0.2,0.4,0.6,0.8,1], "range": ["#543005","#8c510a","#bf812d","#dfc27d","#f6e8c3","#f5f5f5","#c7eae5","#80cdc1","#35978f","#01665e","#003c30"]}, "legend": null},
           "stroke": {"field": "v", "type": "quantitative", "scale": {"domain": [-1,-0.8,-0.6,-0.4,-0.2,0,0.2,0.4,0.6,0.8,1], "range": ["#543005","#8c510a","#bf812d","#dfc27d","#f6e8c3","#f5f5f5","#c7eae5","#80cdc1","#35978f","#01665e","#003c30"]}, "legend": null}}},
        {"layer": [
          {"data": {"values": [{}]}, "mark": {"type": "rect", "fill": "transparent", "stroke": "black", "strokeWidth": 1},
           "encoding": {"x": {"datum": 0, "type": "quantitative", "scale": {"domain": [0, 1], "range": [107.7, 193], "nice": false, "zero": false}, "axis": null}, "x2": {"datum": 1}, "y": {"datum": 0, "type": "quantitative", "scale": {"domain": [0, 1], "range": [129.3, 42.7], "nice": false, "zero": false}, "axis": null}, "y2": {"datum": 1}}},
          {"data": {"values": [{"t": "M"}]}, "mark": {"type": "text", "fontSize": 24, "align": "center", "baseline": "alphabetic", "color": "black"}, "encoding": {"text": {"field": "t"}, "x": {"datum": 0.5, "type": "quantitative"}, "y": {"datum": 1.112, "type": "quantitative"}}}
        ]},
        {"layer": [
          {"data": {"name": "dM"}, "mark": {"type": "rect", "strokeWidth": 0.5, "opacity": 1},
           "encoding": {
             "x": {"field": "c", "type": "ordinal", "scale": {"domain": ["a", "b"], "range": [272.3, 358.7], "paddingInner": 0, "paddingOuter": 0}, "axis": {"orient": "bottom", "offset": -53.7, "title": null}},
             "y": {"field": "r", "type": "ordinal", "scale": {"domain": ["a", "b"], "range": [42.7, 129.3], "paddingInner": 0, "paddingOuter": 0}, "axis": {"orient": "left", "offset": -272.3, "title": null}},
             "color": {"field": "v", "type": "quantitative", "scale": {"domain": [-1,-0.8,-0.6,-0.4,-0.2,0,0.2,0.4,0.6,0.8,1], "range": ["#543005","#8c510a","#bf812d","#dfc27d","#f6e8c3","#f5f5f5","#c7eae5","#80cdc1","#35978f","#01665e","#003c30"]}, "legend": null},
             "stroke": {"field": "v", "type": "quantitative", "scale": {"domain": [-1,-0.8,-0.6,-0.4,-0.2,0,0.2,0.4,0.6,0.8,1], "range": ["#543005","#8c510a","#bf812d","#dfc27d","#f6e8c3","#f5f5f5","#c7eae5","#80cdc1","#35978f","#01665e","#003c30"]}, "legend": null}}},
          {"data": {"values": [{"r": "a", "c": "b"}]}, "mark": {"type": "rect", "fill": "transparent", "stroke": "#ff7f0e", "strokeWidth": 4.5, "strokeDash": [13, 6], "xOffset": -1.8, "x2Offset": 2.3, "yOffset": -2.7, "y2Offset": 0.7},
           "encoding": {"x": {"field": "c", "type": "ordinal"}, "y": {"field": "r", "type": "ordinal"}}}
        ]},
        {"layer": [
          {"data": {"values": [{}]}, "mark": {"type": "rect", "fill": "transparent", "stroke": "black", "strokeWidth": 1},
           "encoding": {"x": {"datum": 0, "type": "quantitative", "scale": {"domain": [0, 1], "range": [272.3, 358.7], "nice": false, "zero": false}, "axis": null}, "x2": {"datum": 1}, "y": {"datum": 0, "type": "quantitative", "scale": {"domain": [0, 1], "range": [129.3, 42.7], "nice": false, "zero": false}, "axis": null}, "y2": {"datum": 1}}},
          {"data": {"values": [{"t": "ΔM"}]}, "mark": {"type": "text", "fontSize": 24, "align": "center", "baseline": "alphabetic", "color": "black"}, "encoding": {"text": {"field": "t"}, "x": {"datum": 0.5, "type": "quantitative"}, "y": {"datum": 1.112, "type": "quantitative"}}},
          {"data": {"values": [{"t": "(F)"}]}, "mark": {"type": "text", "fontSize": 21, "fontWeight": "bold", "align": "center", "baseline": "alphabetic", "color": "black"}, "encoding": {"text": {"field": "t"}, "x": {"datum": -0.258, "type": "quantitative"}, "y": {"datum": 1.199, "type": "quantitative"}}},
          {"data": {"values": [{"t": "+"}]}, "mark": {"type": "text", "fontSize": 32, "align": "center", "baseline": "alphabetic", "color": "black"}, "encoding": {"text": {"field": "t"}, "x": {"datum": -0.505, "type": "quantitative"}, "y": {"datum": 0.382, "type": "quantitative"}}}
        ]},
        {"data": {"name": "MdM"}, "mark": {"type": "rect", "strokeWidth": 0.5, "opacity": 1},
         "encoding": {
           "x": {"field": "c", "type": "ordinal", "scale": {"domain": ["a", "b"], "range": [435.3, 521.3], "paddingInner": 0, "paddingOuter": 0}, "axis": {"orient": "bottom", "offset": -53.7, "title": null}},
           "y": {"field": "r", "type": "ordinal", "scale": {"domain": ["a", "b"], "range": [42.7, 129.3], "paddingInner": 0, "paddingOuter": 0}, "axis": {"orient": "left", "offset": -435.3, "title": null}},
           "color": {"field": "v", "type": "quantitative", "scale": {"domain": [-1,-0.8,-0.6,-0.4,-0.2,0,0.2,0.4,0.6,0.8,1], "range": ["#543005","#8c510a","#bf812d","#dfc27d","#f6e8c3","#f5f5f5","#c7eae5","#80cdc1","#35978f","#01665e","#003c30"]}, "legend": {"type": "gradient", "orient": "none", "legendX": 527.7, "legendY": 43.3, "direction": "vertical", "gradientLength": 86, "gradientThickness": 6, "title": null, "labelExpr": "''", "labelOpacity": 0, "gradientStrokeWidth": 0}}}},
        {"layer": [
          {"data": {"values": [{}]}, "mark": {"type": "rect", "fill": "transparent", "stroke": "black", "strokeWidth": 1},
           "encoding": {"x": {"datum": 0, "type": "quantitative", "scale": {"domain": [0, 1], "range": [435.3, 521.3], "nice": false, "zero": false}, "axis": null}, "x2": {"datum": 1}, "y": {"datum": 0, "type": "quantitative", "scale": {"domain": [0, 1], "range": [129.3, 42.7], "nice": false, "zero": false}, "axis": null}, "y2": {"datum": 1}}},
          {"data": {"values": [{"t": "M + ΔM"}]}, "mark": {"type": "text", "fontSize": 24, "align": "center", "baseline": "alphabetic", "color": "black"}, "encoding": {"text": {"field": "t"}, "x": {"datum": 0.5, "type": "quantitative"}, "y": {"datum": 1.112, "type": "quantitative"}}},
          {"data": {"values": [{"t": "(G)"}]}, "mark": {"type": "text", "fontSize": 21, "fontWeight": "bold", "align": "center", "baseline": "alphabetic", "color": "black"}, "encoding": {"text": {"field": "t"}, "x": {"datum": -0.352, "type": "quantitative"}, "y": {"datum": 1.199, "type": "quantitative"}}},
          {"data": {"values": [{"t": "="}]}, "mark": {"type": "text", "fontSize": 32, "align": "center", "baseline": "alphabetic", "color": "black"}, "encoding": {"text": {"field": "t"}, "x": {"datum": -0.503, "type": "quantitative"}, "y": {"datum": 0.382, "type": "quantitative"}}}
        ]},
        {"data": {"values": [{"lo": -1, "hi": 1}]}, "mark": {"type": "rect", "fill": "transparent", "stroke": "black", "strokeWidth": 1},
         "encoding": {"x": {"datum": 0, "type": "quantitative", "scale": {"domain": [0, 1], "range": [527.7, 533.7], "nice": false, "zero": false}, "axis": null}, "x2": {"datum": 1},
           "y": {"field": "lo", "type": "quantitative", "scale": {"domain": [-1, 1], "range": [129.3, 43.3], "nice": false, "zero": false}, "axis": {"orient": "right", "offset": -113.3, "values": [-1, -0.5, 0, 0.5, 1], "format": ".1f", "tickSize": 4, "labelPadding": 5, "title": null}}, "y2": {"field": "hi"}}},
        {"layer": [
          {"data": {"values": [{}]}, "mark": {"type": "rect", "fill": "white", "stroke": "#333333", "strokeWidth": 1.2},
           "encoding": {"x": {"datum": 0, "type": "quantitative", "scale": {"domain": [0, 1], "range": [578.7, 643.7], "nice": false, "zero": false}, "axis": null}, "x2": {"datum": 1}, "y": {"datum": 0, "type": "quantitative", "scale": {"domain": [0, 1], "range": [109, 45.7], "nice": false, "zero": false}, "axis": null}, "y2": {"datum": 1}}},
          {"data": {"name": "G_dash"}, "mark": {"type": "line", "color": "#ff7f0e", "strokeWidth": 2, "strokeDash": [6, 4]}, "encoding": {"x": {"field": "x", "type": "quantitative"}, "y": {"field": "y", "type": "quantitative"}}},
          {"data": {"name": "G_line"}, "mark": {"type": "line", "color": "#ff7f0e", "strokeWidth": 2}, "encoding": {"x": {"field": "x", "type": "quantitative"}, "y": {"field": "y", "type": "quantitative"}}},
          {"data": {"name": "G_pts"}, "mark": {"type": "point", "filled": true, "size": 85, "opacity": 1}, "encoding": {"x": {"field": "x", "type": "quantitative"}, "y": {"field": "y", "type": "quantitative"}, "color": {"field": "role", "type": "nominal", "scale": {"domain": ["start", "mid", "end"], "range": ["#ff0000", "#0000ff", "#008000"]}, "legend": null}}}
        ]}
      ]
    }
  ]
}
